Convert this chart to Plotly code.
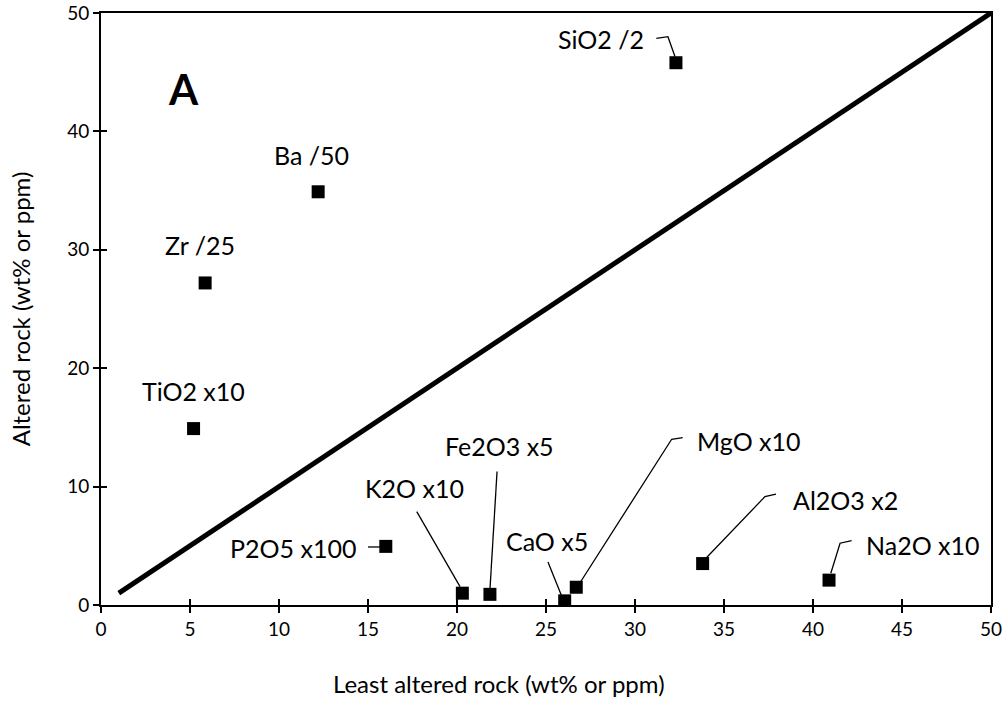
import plotly.graph_objects as go

# Data
names = ["SiO2 /2", "Ba /50", "Zr /25", "TiO2 x10", "P2O5 x100", "K2O x10",
         "Fe2O3 x5", "CaO x5", "MgO x10", "Al2O3 x2", "Na2O x10"]
least_altered = [32.3, 12.2, 5.85, 5.2, 16.0, 20.3, 21.85, 26.05, 26.7, 33.8, 40.9]
altered = [45.8, 34.9, 27.2, 14.9, 4.95, 1.0, 0.9, 0.35, 1.5, 3.5, 2.1]
iso_x = [1, 50]
iso_y = [1, 50]

# Label positions (data coords) and anchors
label_x = [28.1, 11.8, 5.56, 5.22, 14.45, 17.6, 22.4, 25.06, 36.4, 41.8, 46.2]
label_y = [47.8, 38.0, 30.4, 18.1, 4.82, 9.9, 13.4, 5.41, 13.86, 8.88, 5.07]
label_anchor = ["center", "center", "center", "center", "right", "center",
                "center", "center", "center", "center", "center"]

# Leader lines (data coords)
leaders = [
    [(31.2, 47.85), (31.85, 48.0), (32.25, 46.3)],
    [(15.0, 4.9), (15.67, 4.9)],
    [(17.74, 7.89), (20.17, 1.55)],
    [(22.25, 11.27), (21.85, 1.27)],
    [(25.11, 3.63), (25.88, 0.76)],
    [(32.68, 14.14), (32.06, 14.0), (26.91, 1.88)],
    [(37.92, 9.36), (37.3, 9.15), (33.93, 3.86)],
    [(42.17, 5.44), (41.52, 5.22), (41.0, 2.68)],
]

x_ticks = list(range(0, 51, 5))
y_ticks = list(range(0, 51, 10))

FONT = "Lato"

fig = go.Figure()
fig.add_trace(go.Scatter(x=iso_x, y=iso_y, mode="lines",
                         line=dict(color="black", width=5), hoverinfo="skip",
                         showlegend=False))
fig.add_trace(go.Scatter(x=least_altered, y=altered, mode="markers",
                         marker=dict(symbol="square", size=13, color="black"),
                         text=names, showlegend=False))
# invisible trace for the inner-tick overlay axes
fig.add_trace(go.Scatter(x=[None], y=[None], xaxis="x2", yaxis="y2",
                         showlegend=False, hoverinfo="skip"))

for pts in leaders:
    path = "M " + " L ".join(f"{px},{py}" for px, py in pts)
    fig.add_shape(type="path", path=path, xref="x", yref="y",
                  line=dict(color="black", width=1.3))

for n, lx, ly, anc in zip(names, label_x, label_y, label_anchor):
    fig.add_annotation(x=lx, y=ly, xref="x", yref="y", text=n, showarrow=False,
                       xanchor=anc, yanchor="middle",
                       font=dict(family=FONT, size=25, color="black"))

fig.add_annotation(x=0.0922, y=0.872, xref="paper", yref="paper", text="<b>A</b>",
                   showarrow=False, xanchor="center", yanchor="middle",
                   font=dict(family=FONT, size=42, color="black"))

# x-axis title (offset left of plot centre, as in the original)
fig.add_annotation(x=0.447, y=-0.132, xref="paper", yref="paper",
                   text="Least altered rock (wt% or ppm)", showarrow=False,
                   xanchor="center", yanchor="middle",
                   font=dict(family=FONT, size=24, color="black"))

axis_common = dict(showgrid=False, zeroline=False, linecolor="black", linewidth=2,
                   ticks="outside", ticklen=6, tickwidth=1.5, tickcolor="black",
                   mirror=True, showline=True, automargin=False,
                   tickfont=dict(family=FONT, size=19, color="black"))

fig.update_layout(
    width=1006, height=706,
    margin=dict(l=101, r=15, t=13, b=101),
    plot_bgcolor="white", paper_bgcolor="white",
    xaxis=dict(range=[0, 50], tickvals=x_ticks, **axis_common),
    yaxis=dict(range=[0, 50], tickvals=y_ticks, **axis_common,
               title=dict(text="Altered rock (wt% or ppm)", standoff=30,
                          font=dict(family=FONT, size=24, color="black"))),
    xaxis2=dict(range=[0, 50], tickvals=x_ticks, overlaying="x", anchor="y2",
                ticks="inside", ticklen=6, tickwidth=1.5, tickcolor="black",
                showticklabels=False, showgrid=False, zeroline=False, showline=False),
    yaxis2=dict(range=[0, 50], tickvals=y_ticks, overlaying="y", anchor="x2",
                ticks="inside", ticklen=6, tickwidth=1.5, tickcolor="black",
                showticklabels=False, showgrid=False, zeroline=False, showline=False),
)

fig.write_html("out.html")
